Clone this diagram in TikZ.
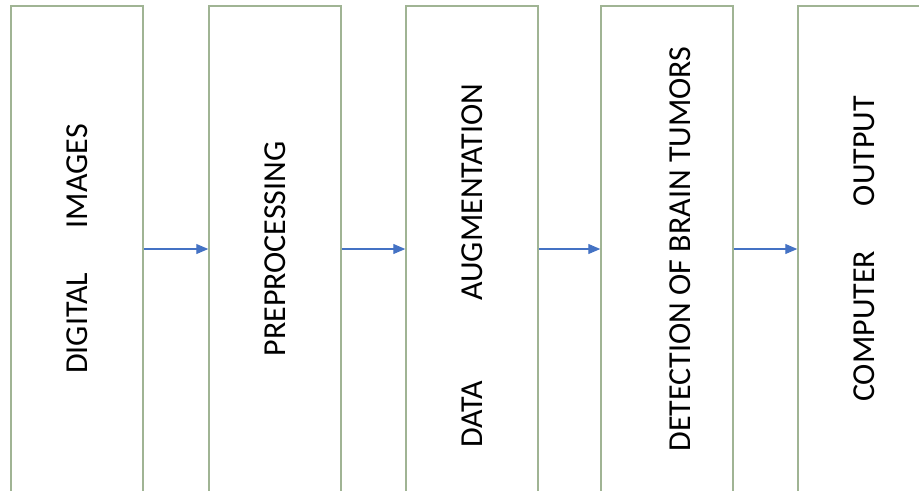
\documentclass[tikz,border=0pt]{standalone}
\usepackage{graphicx}
\usepackage{fontspec}
\setmainfont{Carlito}
\usetikzlibrary{arrows.meta}
\definecolor{boxgreen}{RGB}{160,180,148}
\definecolor{flowblue}{RGB}{68,114,196}
\begin{document}
\begin{tikzpicture}[x=0.75pt,y=-0.75pt,
	stage/.style={draw=boxgreen,line width=1.1pt,minimum width=99pt,minimum height=364.5pt,inner sep=0pt,font=\fontsize{24}{28}\selectfont},
	flow/.style={draw=flowblue,line width=0.8pt,-{Triangle[length=9pt,width=7.5pt]}}]
	\useasboundingbox (0,0) rectangle (919,490);
	\clip (0,0) rectangle (919,490);
	% the five stages, bottom edges run off the page
	\node [stage] (img) at (77,249) {\rotatebox{90}{DIGITAL\hspace{1.4em}IMAGES}};
	\node [stage] (pre) at (275,249) {\rotatebox{90}{PREPROCESSING}};
	\node [stage] (aug) at (472,249) {\rotatebox{90}{DATA\hspace{2.5em}AUGMENTATION\hspace{25pt}}};
	\node [stage] (det) at (667,249) {\hspace{20pt}\rotatebox{90}{DETECTION OF BRAIN TUMORS}};
	\node [stage] (out) at (864,249) {\rotatebox{90}{COMPUTER\hspace{1.4em}OUTPUT}};
	\foreach \a/\b in {img/pre, pre/aug, aug/det, det/out}
		\draw [flow] (\a) -- (\b);
\end{tikzpicture}
\end{document}
